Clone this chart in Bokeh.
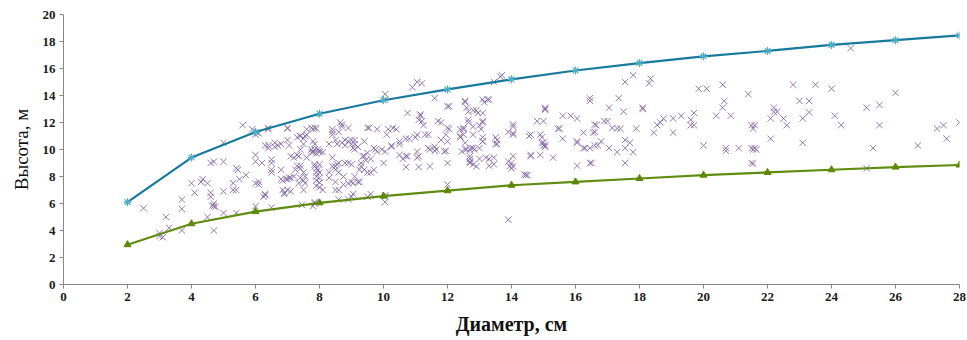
from bokeh.plotting import figure
from bokeh.models import Range1d, FixedTicker
from bokeh.embed import file_html
from bokeh.resources import INLINE

# Reference curves (upper and lower height limits by diameter)
ref_d = [2, 4, 6, 8, 10, 12, 14, 16, 18, 20, 22, 24, 26, 28]
upper_h = [6.1, 9.4, 11.3, 12.65, 13.65, 14.45, 15.2, 15.85, 16.4, 16.9, 17.3, 17.75, 18.1, 18.45]
lower_h = [2.95, 4.5, 5.4, 6.05, 6.55, 6.95, 7.35, 7.6, 7.85, 8.1, 8.3, 8.5, 8.7, 8.85]

x_ticks = [0, 2, 4, 6, 8, 10, 12, 14, 16, 18, 20, 22, 24, 26, 28]
y_ticks = [0, 2, 4, 6, 8, 10, 12, 14, 16, 18, 20]

trees_left = [
    (2.5, 5.65), (3.2, 5.0), (3.0, 3.8), (3.1, 3.5), (3.0, 3.6), (3.3, 4.2), (3.7, 6.3), (3.7, 5.6), (3.7, 4.0),
    (4.0, 7.5), (4.1, 6.8), (4.3, 7.6), (4.35, 7.8), (4.5, 7.5), (4.5, 5.0), (4.6, 9.0), (4.7, 9.1), (4.6, 6.8),
    (4.6, 6.5), (4.7, 6.0), (4.7, 5.8), (4.65, 5.85), (4.75, 5.75), (4.7, 4.0), (5.0, 9.1), (5.0, 10.5), (5.0, 6.9),
    (5.0, 5.3), (5.4, 8.6), (5.3, 7.5), (5.3, 7.0), (5.4, 7.0), (5.5, 7.8), (5.7, 8.1), (5.4, 5.3), (5.6, 11.8),
    (5.9, 11.5), (6.0, 11.1), (6.1, 11.2), (6.0, 9.6), (6.0, 9.1), (6.0, 7.5), (6.1, 7.6), (6.1, 7.4), (6.0, 5.8),
    (6.2, 9.0), (6.25, 6.5), (6.3, 6.6), (6.4, 11.6), (6.4, 10.3), (6.4, 10.1), (6.5, 8.5), (6.5, 8.3), (6.5, 9.0),
    (6.5, 5.7), (6.6, 10.2), (6.7, 10.3), (6.8, 8.5), (6.8, 7.8), (6.9, 6.8), (6.9, 6.7), (7.0, 10.7), (7.0, 11.6),
    (7.0, 7.8), (7.1, 7.9), (7.2, 8.0), (7.1, 6.9), (7.1, 9.5), (7.2, 9.4), (7.3, 10.9), (7.3, 8.8), (7.4, 11.0),
    (7.5, 10.4), (7.5, 7.0), (7.5, 8.3), (7.5, 7.7), (7.6, 11.1), (7.75, 11.6), (7.8, 11.5), (7.8, 9.8), (7.9, 9.7),
    (7.9, 8.3), (7.9, 7.7), (7.8, 5.8), (8.0, 7.2), (8.0, 8.3), (8.0, 9.9), (8.1, 9.8), (5.45, 8.5), (6.05, 11.25),
    (6.4, 11.5), (7.0, 11.55), (7.9, 11.55), (7.4, 11.0), (7.5, 10.8), (7.55, 11.0), (6.6, 10.5), (6.8, 10.4),
    (7.05, 10.3), (7.8, 10.6), (7.85, 10.4), (7.85, 10.0), (7.95, 10.0), (6.3, 10.3), (6.5, 9.25), (7.3, 9.6),
    (7.35, 9.5), (7.25, 8.5), (7.4, 8.6), (7.55, 8.0), (7.55, 7.5), (7.05, 7.9), (6.95, 7.8), (6.85, 7.7),
    (6.85, 7.0), (7.0, 7.0), (7.85, 8.75), (7.95, 8.5), (7.9, 8.0), (8.0, 7.55), (8.1, 7.0), (6.3, 6.7),
    (7.45, 5.9), (7.85, 6.0), (7.6, 11.5), (7.85, 11.6), (7.6, 9.4), (7.4, 10.0), (7.75, 9.8), (7.75, 10.0),
    (8.0, 9.8), (8.0, 8.9), (7.85, 8.9), (7.9, 8.6), (8.0, 7.9), (7.9, 7.3), (7.4, 8.8), (7.4, 7.9), (7.35, 7.5),
    (7.85, 6.1),
]

trees_mid = [
    (8.4, 11.3), (8.65, 12.0), (8.7, 11.7), (8.6, 11.3), (8.55, 10.4), (8.7, 10.5), (8.8, 10.3), (8.9, 10.6),
    (8.4, 8.75), (8.5, 8.5), (8.55, 8.9), (8.6, 8.3), (8.75, 8.0), (8.3, 7.9), (8.5, 7.0), (8.75, 7.4), (8.9, 7.5),
    (8.9, 6.3), (8.4, 11.5), (8.7, 11.85), (8.9, 11.6), (9.5, 11.6), (9.55, 11.6), (9.8, 11.5), (10.15, 11.5),
    (10.4, 11.5), (9.0, 10.7), (8.8, 10.7), (8.5, 10.7), (8.4, 11.1), (8.3, 10.4), (8.4, 9.4), (8.6, 9.0),
    (8.5, 8.75), (8.8, 9.0), (8.9, 9.0), (9.0, 8.9), (9.3, 8.75), (9.4, 8.5), (9.6, 8.3), (9.7, 8.5), (9.2, 7.6),
    (9.1, 8.0), (9.0, 7.6), (8.5, 7.6), (8.6, 7.0), (8.3, 8.3), (9.2, 10.2), (9.0, 10.4), (9.1, 10.0), (9.3, 9.0),
    (9.4, 9.5), (9.5, 9.75), (9.6, 9.3), (9.7, 10.1), (9.8, 9.85), (10.05, 9.85), (10.6, 9.3), (10.7, 9.5),
    (10.5, 9.6), (10.25, 10.3), (10.5, 10.4), (11.1, 9.5), (11.05, 9.85), (11.4, 10.1), (11.6, 10.2), (11.65, 10.0),
    (11.95, 9.9), (10.05, 6.1), (10.05, 6.5), (9.6, 6.7), (9.0, 6.5), (8.6, 6.3), (10.05, 14.1), (10.05, 13.7),
    (10.9, 14.6), (11.05, 15.0), (11.2, 14.9), (11.6, 13.8), (10.75, 12.7), (11.15, 12.5), (11.1, 12.2),
    (11.25, 11.8), (11.15, 12.6), (11.2, 12.1), (11.7, 12.1), (10.3, 11.6), (10.1, 11.1), (10.5, 10.6),
    (11.0, 10.9), (11.3, 11.1), (9.1, 10.7), (9.1, 10.4), (9.05, 10.1), (9.4, 10.6), (9.75, 10.0), (9.95, 10.0),
    (10.25, 10.2), (10.75, 9.5), (11.05, 9.4), (11.45, 10.0), (11.6, 9.9), (11.45, 8.75), (11.1, 8.7), (10.7, 8.7),
    (10.0, 9.0), (9.35, 9.5), (9.45, 9.2), (9.25, 8.5), (9.5, 8.3), (9.25, 7.6), (9.05, 7.5), (9.05, 6.7),
    (9.5, 6.5), (10.05, 6.6), (11.4, 11.1), (11.05, 11.1), (10.7, 10.8), (10.8, 10.8), (11.8, 12.0), (12.0, 11.6),
    (11.95, 11.1),
]

trees_right = [
    (12.05, 13.2), (12.55, 13.6), (13.1, 13.7), (13.3, 13.7), (12.6, 13.1), (12.9, 12.9), (13.1, 12.7),
    (13.1, 12.1), (12.8, 11.7), (12.8, 11.1), (12.5, 11.5), (12.4, 10.9), (12.55, 10.5), (12.7, 10.0), (12.7, 9.3),
    (12.5, 11.6), (13.9, 11.3), (14.05, 11.7), (14.05, 11.2), (13.55, 10.7), (13.55, 10.4), (13.1, 10.9),
    (13.1, 10.6), (13.0, 10.1), (12.8, 10.1), (12.55, 10.0), (12.0, 7.4), (13.9, 4.8), (14.5, 8.1), (14.6, 11.1),
    (14.6, 9.6), (14.9, 9.6), (15.05, 12.95), (14.8, 12.1), (15.0, 12.1), (15.0, 10.5), (15.05, 10.3), (14.0, 9.0),
    (14.0, 8.6), (13.45, 8.9), (13.3, 8.8), (13.0, 9.3), (12.8, 8.9), (12.7, 9.1), (12.0, 9.0), (12.0, 10.6),
    (13.45, 15.0), (13.65, 15.4), (13.7, 15.5), (12.55, 13.5), (13.25, 13.7), (13.15, 13.5), (12.0, 13.2),
    (12.65, 12.8), (12.8, 12.9), (12.95, 12.7), (12.65, 12.2), (12.65, 12.0), (13.1, 12.0), (13.0, 11.8),
    (13.05, 11.5), (12.05, 11.5), (12.4, 11.5), (12.5, 11.1), (12.4, 11.0), (11.8, 10.7), (11.9, 9.85),
    (12.45, 9.85), (12.6, 10.0), (12.75, 10.1), (12.85, 10.0), (13.1, 10.6), (12.7, 9.5), (12.7, 9.0),
    (12.9, 8.75), (13.2, 9.4), (13.3, 9.3), (13.45, 9.4), (13.5, 10.9), (13.5, 10.4), (14.05, 11.85),
    (14.05, 11.1), (14.05, 9.5), (13.9, 9.1), (14.05, 8.75), (13.95, 8.75), (14.4, 8.15),
    (16.45, 13.8), (15.05, 13.0), (15.6, 12.5), (16.05, 12.3), (16.6, 11.85), (17.0, 12.1), (14.55, 11.0),
    (15.45, 11.55), (15.6, 10.8), (14.95, 10.9), (15.05, 10.2), (16.25, 11.25), (16.55, 11.25), (16.05, 10.6),
    (16.3, 10.1), (16.45, 10.1), (16.7, 10.3), (16.8, 10.6), (14.6, 9.5), (15.3, 9.4), (16.05, 8.8), (16.5, 9.0),
    (14.45, 8.1),
    (17.8, 15.5), (17.55, 15.0), (18.35, 15.25), (18.3, 14.9), (19.85, 14.5), (20.1, 14.5), (20.6, 14.8),
    (21.4, 14.1), (15.05, 13.1), (15.85, 12.5), (16.45, 13.6), (17.35, 13.8), (17.05, 13.1), (17.5, 12.8),
    (18.1, 13.1), (18.1, 13.0), (15.5, 11.55), (16.65, 11.8), (16.9, 12.1), (17.15, 11.6), (17.3, 11.55),
    (17.4, 11.55), (16.6, 11.3), (17.9, 11.55), (18.45, 11.25), (18.55, 11.8), (18.65, 12.0), (18.75, 12.3),
    (19.05, 12.3), (19.05, 11.25), (19.3, 12.5), (19.6, 12.2), (19.7, 12.7), (19.6, 11.8), (19.7, 11.8),
    (20.4, 12.5), (20.85, 12.5), (20.6, 13.1), (20.65, 13.6), (21.5, 11.8), (21.55, 11.55), (14.9, 11.1),
    (14.95, 10.5), (15.0, 10.3), (16.05, 10.5), (16.25, 10.1), (16.6, 10.3), (17.05, 10.1), (17.3, 9.8),
    (17.55, 10.7), (17.7, 10.5), (17.55, 10.1), (17.8, 9.8), (17.55, 9.0), (16.45, 9.0), (20.0, 10.3),
    (20.7, 10.1), (20.7, 9.9), (21.1, 10.1), (21.5, 10.1), (21.6, 10.1), (21.5, 9.0),
    (24.6, 17.5), (22.8, 14.8), (23.5, 14.8), (24.0, 14.5), (26.0, 14.2), (23.0, 13.6), (23.3, 13.6),
    (22.2, 13.1), (22.3, 12.8), (22.2, 12.8), (22.1, 12.3), (22.5, 12.3), (22.6, 11.8), (23.1, 12.3),
    (23.3, 12.75), (24.1, 12.5), (24.3, 11.8), (25.1, 13.1), (25.5, 13.3), (25.5, 11.8), (27.3, 11.55),
    (27.5, 11.8), (27.6, 10.8), (28.0, 12.0), (21.6, 11.8), (21.55, 10.0), (21.65, 10.0), (22.1, 10.8),
    (23.1, 10.5), (25.3, 10.1), (26.7, 10.3), (25.1, 8.6), (21.55, 8.95),
]

trees = trees_left + trees_mid + trees_right
tree_d = [t[0] for t in trees]
tree_h = [t[1] for t in trees]

p = figure(width=966, height=338, output_backend="svg", toolbar_location=None,
           x_range=Range1d(0, 28), y_range=Range1d(0, 20),
           min_border_left=63, min_border_right=7, min_border_top=14, min_border_bottom=54)
p.outline_line_color = None
p.xgrid.visible = False
p.ygrid.visible = False

p.scatter(x=tree_d, y=tree_h, marker="x", size=9, line_color="#8064a2", line_alpha=0.85, line_width=1)

p.line(ref_d, upper_h, line_color="#17799b", line_width=2.2)
p.scatter(ref_d, upper_h, marker="asterisk", size=8, line_color="#4bacc6", line_width=1.2)
p.line(ref_d, lower_h, line_color="#5f8c10", line_width=2.2)
p.scatter(ref_d, lower_h, marker="triangle", size=7, fill_color="#5a8a00", line_color="#5a8a00")

for ax in (p.xaxis[0], p.yaxis[0]):
    ax.axis_line_color = "#868686"
    ax.major_tick_line_color = "#868686"
    ax.minor_tick_line_color = None
    ax.major_tick_in = 0
    ax.major_tick_out = 4
    ax.major_label_text_font = "Liberation Serif"
    ax.major_label_text_font_style = "bold"
    ax.major_label_text_font_size = "13px"
    ax.major_label_text_color = "#1a1a1a"
    ax.axis_label_text_font = "Liberation Serif"
    ax.axis_label_text_color = "#111111"

p.xaxis.axis_label_text_font_style = "bold"
p.xaxis.axis_label_text_font_size = "20px"
p.yaxis.axis_label_text_font_style = "normal"
p.yaxis.axis_label_text_font_size = "19px"

p.xaxis.ticker = FixedTicker(ticks=x_ticks)
p.yaxis.ticker = FixedTicker(ticks=y_ticks)
p.xaxis.axis_label = "Диаметр, см"
p.yaxis.axis_label = "Высота, м"
p.xaxis.major_label_standoff = 4
p.xaxis.axis_label_standoff = 9
p.yaxis.major_label_standoff = 4
p.yaxis.axis_label_standoff = 8

open("out.html", "w").write(file_html(p, INLINE))
